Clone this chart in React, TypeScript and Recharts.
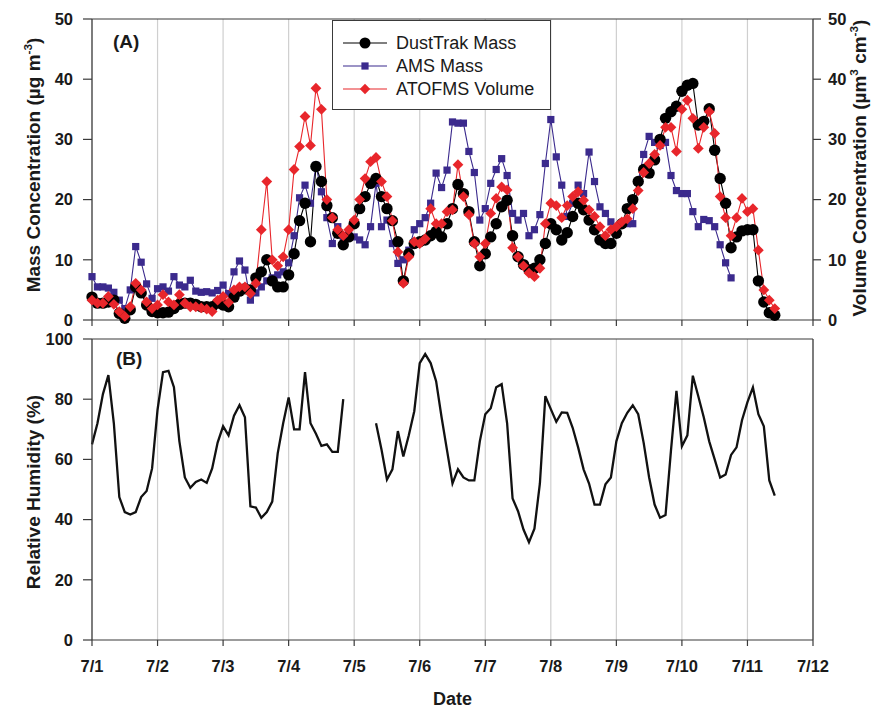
import React from 'react';
import { LineChart, Line, XAxis, YAxis, CartesianGrid, ReferenceLine } from 'recharts';

const FONT = '"Liberation Sans", Arial, sans-serif';

// sampling: every 2 hours starting 7/1 00:00 (x = day of July)
const START_DAY = 1;
const STEP_DAYS = 1 / 12;

const dayTicks = [1, 2, 3, 4, 5, 6, 7, 8, 9, 10, 11, 12];
const massTicks = [0, 10, 20, 30, 40, 50];
const rhTicks = [0, 20, 40, 60, 80, 100];

const seriesNames = ['DustTrak Mass', 'AMS Mass', 'ATOFMS Volume'];

// DustTrak mass (ug m-3)
const dustTrak = [
  3.8, 2.8, 2.8, 3.0, 3.3, 1.1, 0.3, 1.7, 5.5, 4.5, 2.5, 1.4,
  1.2, 1.2, 1.3, 1.9, 2.6, 2.8, 2.8, 2.6, 2.2, 2.2, 2.2, 2.8,
  2.5, 2.2, 3.8, 4.8, 5.2, 5.0, 7.0, 8.0, 10.0, 6.5, 5.5, 5.5,
  7.5, 11, 16.5, 19.4, 13, 25.5, 23, 19, 17, 14.4, 12.5, 13.8,
  16, 18.5, 20.5, 22.7, 23.5, 20.5, 18.5, 16.5, 13, 6.5, 11, 12.7,
  13, 13.3, 14, 14.7, 13.8, 16, 18.5, 22.5, 21, 18, 13, 9,
  11, 13.8, 16, 18.8, 19.9, 14, 10.5, 9.2, 8.3, 8.6, 10, 12.7,
  16, 15, 13.3, 14.5, 17.2, 19.4, 18.3, 16.6, 15, 13.3, 12.7, 12.7,
  14.4, 16, 18.5, 20, 23, 25, 24.4, 26.6, 30, 33.5, 34.6, 35.5,
  38, 39, 39.3, 32.4, 33, 35.1, 28.2, 23.5, 19.4, 12, 13.8, 14.8,
  15, 15, 6.5, 3, 1.2, 0.8,
];

// AMS mass (ug m-3)
const amsMass = [
  7.2, 5.5, 5.5, 5.3, 4.6, 3.3, 1.9, 5.0, 12.2, 9.6, 6.0, 3.6,
  5.2, 5.5, 4.8, 7.2, 5.8, 5.5, 6.6, 4.8, 4.6, 4.7, 4.5, 4.9,
  5.8, 4.4, 8.0, 9.8, 8.3, 3.3, 4.5, 5.5, 6.5, 7.0, 7.5, 8.0,
  9.5, 14, 20.3, 22.4, 19.4, 25.7, 21.3, 17, 12.7, 15.5, 13.8, 14.2,
  13.8, 13.3, 12.5, 15.5, 22.7, 15.5, 16.6, 12.7, 9.4, 10, 11.6, 15,
  16, 17, 19.4, 24.4, 22, 24.9, 32.9, 32.7, 32.7, 28, 24.5, 16.6,
  18.5, 22.7, 25, 26.8, 24, 17.7, 16.6, 17.7, 14, 15, 17.5, 26,
  33.3, 27.1, 22.4, 17.2, 19.4, 22.4, 21, 27.9, 23, 18.8, 17.7, 16.3,
  15, 16, 16, 16, 23, 27.5, 30.5, 29.5, 29, 29.5, 24, 21.5,
  21, 21, 18, 15.5, 16.7, 16.5, 15.5, 12.5, 9.5, 7,
];

// ATOFMS volume (um3 cm-3)
const atofmsVolume = [
  3.3, 2.8, 2.8, 3.9, 2.6, 1.4, 0.6, 2.2, 6.1, 5.0, 3.0, 1.9,
  2.5, 4.2, 3.0, 2.5, 4.2, 2.8, 2.2, 2.2, 2.0, 1.8, 1.4, 3.3,
  3.9, 2.9, 5.0, 5.5, 5.5, 4.4, 6.1, 15, 23, 10, 9, 10.5,
  15, 25, 28.8, 33.8, 29, 38.5, 35, 20, 17, 15, 14, 15,
  16.6, 20, 23.5, 26.3, 27, 23, 20.5, 16.5, 11.3, 6.1, 10.5, 13,
  12.7, 13.5, 18.5, 16, 16, 18, 18.3, 25.8, 20.5, 17.5, 12.7, 10.5,
  12.7, 17.7, 20.2, 22.1, 21.6, 12, 10.5, 9, 7.8, 7.2, 8.6, 16,
  19.4, 19, 17, 19, 20.5, 21.3, 19.9, 18.3, 17.2, 15.5, 14, 15,
  15.5, 16.3, 16.8, 18.5, 21.5, 24.5, 26, 27.5, 29, 32, 32, 28,
  35, 36.5, 33.5, 28.5, 32, 34.6, 31, 20.5, 17, 14, 17, 20.2,
  18, 18.5, 11.6, 5, 3.3, 1.9,
];

// relative humidity (%), null = no data
const relHumidity = [
  65, 72, 81.7, 88, 72, 47.5, 42.5, 41.7, 42.5, 47.5, 49.5, 57,
  76.5, 89, 89.4, 84, 66, 54, 50.6, 52.5, 53.3, 52.2, 57, 65.6,
  71, 68, 74.5, 78, 74, 44.4, 44, 40.6, 42.5, 46, 62, 72,
  80.6, 70, 70, 89, 72, 68.5, 64.5, 65, 62.5, 62.5, 80, null,
  null, null, null, null, 72, 63.3, 53.3, 56.7, 69.4, 61, 68, 76,
  92, 95, 92, 86, 74, 63, 52, 56.7, 54, 53, 53, 66,
  75, 77, 84, 85, 72, 47, 42.8, 36.7, 32.5, 37, 52, 81,
  76.7, 72.5, 75.6, 75.5, 70.5, 64, 56.7, 52, 45, 45, 51.7, 54,
  66, 72, 75.5, 78, 75, 65.5, 54, 45, 40.6, 41.5, 63, 82.8,
  64.4, 68, 87.8, 81, 74, 66, 60, 54, 55, 61.5, 64, 73,
  79, 83.9, 75, 71, 53, 48,
];

const massRows = dustTrak.map((v, i) => ({
  t: START_DAY + i * STEP_DAYS,
  dustTrak: v,
  ams: amsMass[i] ?? null,
  atofms: atofmsVolume[i] ?? null,
}));

const rhRows = relHumidity.map((v, i) => ({ t: START_DAY + i * STEP_DAYS, rh: v }));

const BLACK = '#000000';
const PURPLE = '#3b2a8d';
const RED = '#e8262b';
const AXIS = '#3a3a3a';

const tickStyle = { fontSize: 16.5, fontWeight: 'bold', fill: '#1a1a1a', fontFamily: FONT };

const circleDot = (p: any) => {
  if (p.cx == null || p.cy == null || p.value == null) return <g key={`c${p.index}`} />;
  return <circle key={`c${p.index}`} cx={p.cx} cy={p.cy} r={5.7} fill={BLACK} />;
};

const squareDot = (p: any) => {
  if (p.cx == null || p.cy == null || p.value == null) return <g key={`s${p.index}`} />;
  return <rect key={`s${p.index}`} x={p.cx - 3.6} y={p.cy - 3.6} width={7.2} height={7.2} fill={PURPLE} />;
};

const diamondDot = (p: any) => {
  if (p.cx == null || p.cy == null || p.value == null) return <g key={`d${p.index}`} />;
  const r = 5.4;
  return (
    <path
      key={`d${p.index}`}
      d={`M${p.cx},${p.cy - r}L${p.cx + r},${p.cy}L${p.cx},${p.cy + r}L${p.cx - r},${p.cy}Z`}
      fill={RED}
    />
  );
};

function VTitle({ cx, cy, children }: { cx: number; cy: number; children: React.ReactNode }) {
  return (
    <div
      style={{
        position: 'absolute',
        left: cx,
        top: cy,
        transform: 'translate(-50%, -50%) rotate(-90deg)',
        whiteSpace: 'nowrap',
        fontSize: 19,
        fontWeight: 'bold',
        lineHeight: 1,
      }}
    >
      {children}
    </div>
  );
}

const Sup = ({ children }: { children: React.ReactNode }) => (
  <span style={{ fontSize: '0.62em', verticalAlign: '0.6em', lineHeight: 0 }}>{children}</span>
);

function LegendBox() {
  const markers = [
    <circle key="a" cx={22} cy={8} r={5.5} fill={BLACK} />,
    <rect key="b" x={18.4} y={4.4} width={7.2} height={7.2} fill={PURPLE} />,
    <path key="c" d="M22,2.8L27.2,8L22,13.2L16.8,8Z" fill={RED} />,
  ];
  const colors = [BLACK, PURPLE, RED];
  return (
    <div
      style={{
        position: 'absolute',
        left: 332,
        top: 20,
        width: 217,
        height: 88,
        border: `1.5px solid ${AXIS}`,
        background: '#fff',
      }}
    >
      {seriesNames.map((name, i) => (
        <div key={name} style={{ position: 'absolute', left: 10, top: 13 + i * 23, height: 18, display: 'flex', alignItems: 'center' }}>
          <svg width={44} height={16}>
            <line x1={0} y1={8} x2={44} y2={8} stroke={colors[i]} strokeWidth={1.2} />
            {markers[i]}
          </svg>
          <span style={{ marginLeft: 9, fontSize: 18, lineHeight: '18px', color: '#1a1a1a' }}>{name}</span>
        </div>
      ))}
    </div>
  );
}

export default function App() {
  return (
    <div
      style={{
        position: 'absolute',
        left: 0,
        top: 0,
        width: 882,
        height: 711,
        background: '#fff',
        fontFamily: FONT,
        color: '#1a1a1a',
        overflow: 'hidden',
      }}
    >
      <div style={{ position: 'absolute', left: 0, top: 330 }}>
        <LineChart width={882} height={381} data={rhRows} margin={{ top: 9, right: 69, bottom: 0, left: 0 }}>
          <CartesianGrid horizontal={false} stroke="#cfcfcf" strokeWidth={1.2} />
          <XAxis
            dataKey="t"
            type="number"
            domain={[1, 12]}
            ticks={dayTicks}
            interval={0}
            tickFormatter={(v: number) => `7/${v}`}
            height={71}
            tickSize={6}
            tickMargin={14}
            tick={tickStyle}
            axisLine={{ stroke: AXIS, strokeWidth: 1.2 }}
            tickLine={{ stroke: AXIS, strokeWidth: 1.2 }}
            label={{
              value: 'Date',
              position: 'insideBottom',
              offset: 6,
              style: { fontSize: 18, fontWeight: 'bold', fill: '#1a1a1a', fontFamily: FONT },
            }}
          />
          <YAxis
            domain={[0, 100]}
            ticks={rhTicks}
            interval={0}
            width={92}
            tickSize={9}
            tickMargin={10}
            tick={tickStyle}
            axisLine={{ stroke: AXIS, strokeWidth: 1.2 }}
            tickLine={{ stroke: AXIS, strokeWidth: 1.2 }}
          />
          <ReferenceLine y={100} stroke={AXIS} strokeWidth={1.2} />
          <ReferenceLine x={12} stroke={AXIS} strokeWidth={1.2} />
          <Line
            dataKey="rh"
            stroke="#111"
            strokeWidth={2.3}
            dot={false}
            activeDot={false}
            isAnimationActive={false}
          />
        </LineChart>
      </div>

      {/* top panel drawn after the bottom one so its "0" labels are not covered */}
      <div style={{ position: 'absolute', left: 0, top: 0 }}>
        <LineChart width={882} height={334} data={massRows} margin={{ top: 19, right: 0, bottom: 0, left: 0 }}>
          <CartesianGrid horizontal={false} stroke="#cfcfcf" strokeWidth={1.2} yAxisId="left" />
          <XAxis
            dataKey="t"
            type="number"
            domain={[1, 12]}
            ticks={dayTicks}
            interval={0}
            tickFormatter={() => ''}
            height={14}
            tickSize={6}
            axisLine={{ stroke: AXIS, strokeWidth: 1.2 }}
            tickLine={{ stroke: AXIS, strokeWidth: 1.2 }}
          />
          <YAxis
            yAxisId="left"
            domain={[0, 50]}
            ticks={massTicks}
            interval={0}
            width={92}
            tickSize={9}
            tickMargin={10}
            tick={tickStyle}
            axisLine={{ stroke: AXIS, strokeWidth: 1.2 }}
            tickLine={{ stroke: AXIS, strokeWidth: 1.2 }}
          />
          <YAxis
            yAxisId="right"
            orientation="right"
            domain={[0, 50]}
            ticks={massTicks}
            interval={0}
            width={69}
            tickSize={8}
            tickMargin={7}
            tick={tickStyle}
            axisLine={{ stroke: AXIS, strokeWidth: 1.2 }}
            tickLine={{ stroke: AXIS, strokeWidth: 1.2 }}
          />
          <ReferenceLine yAxisId="left" y={50} stroke={AXIS} strokeWidth={1.2} />
          <Line
            yAxisId="left"
            dataKey="ams"
            name={seriesNames[1]}
            stroke={PURPLE}
            strokeWidth={1.1}
            dot={squareDot}
            activeDot={false}
            isAnimationActive={false}
          />
          <Line
            yAxisId="left"
            dataKey="dustTrak"
            name={seriesNames[0]}
            stroke={BLACK}
            strokeWidth={1.1}
            dot={circleDot}
            activeDot={false}
            isAnimationActive={false}
          />
          <Line
            yAxisId="right"
            dataKey="atofms"
            name={seriesNames[2]}
            stroke={RED}
            strokeWidth={1.1}
            dot={diamondDot}
            activeDot={false}
            isAnimationActive={false}
          />
        </LineChart>
      </div>

      <LegendBox />

      <div style={{ position: 'absolute', left: 113, top: 31, fontSize: 19, fontWeight: 'bold' }}>(A)</div>
      <div style={{ position: 'absolute', left: 116, top: 348, fontSize: 19, fontWeight: 'bold' }}>(B)</div>

      <VTitle cx={33} cy={165}>
        Mass Concentration (µg m<Sup>-3</Sup>)
      </VTitle>
      <VTitle cx={859} cy={168}>
        Volume Concentration (µm<Sup>3</Sup> cm<Sup>-3</Sup>)
      </VTitle>
      <VTitle cx={33} cy={492}>
        Relative Humidity (%)
      </VTitle>
    </div>
  );
}
